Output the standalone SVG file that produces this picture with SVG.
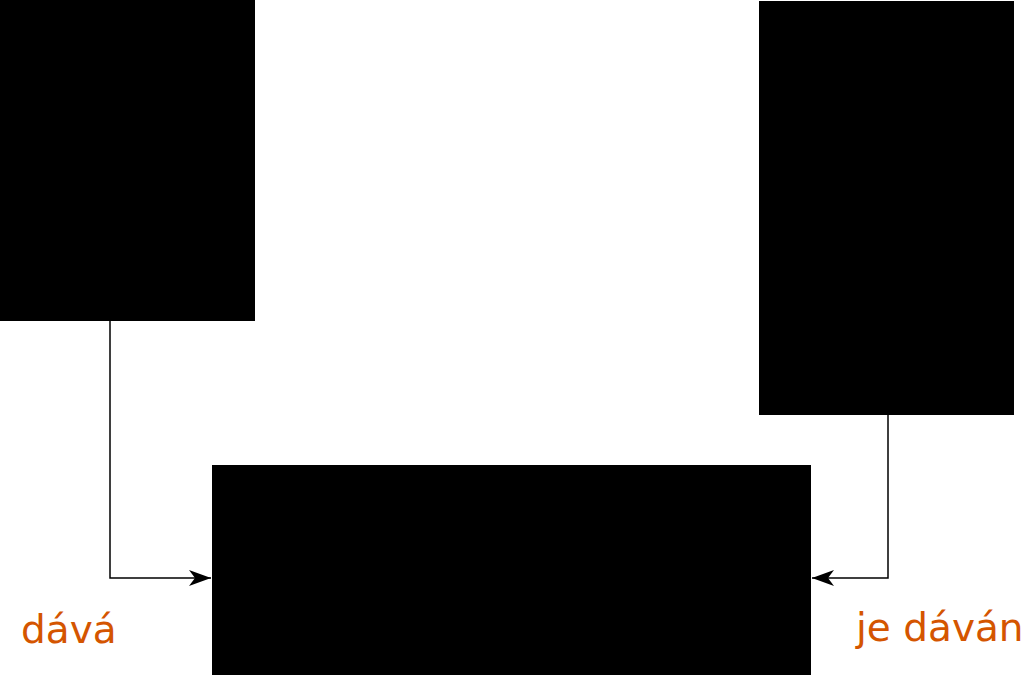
<svg xmlns="http://www.w3.org/2000/svg" width="1024" height="675" viewBox="0 0 1024 675">
<style>
.node{fill:#000;stroke:none}
.conn{fill:none;stroke:#000;stroke-width:1.5}
.lbl{font-family:"DejaVu Sans",sans-serif;font-size:39px;fill:#d45500}
</style>
<defs>
<marker id="arr" viewBox="0 0 22 18" refX="22" refY="9" markerWidth="22" markerHeight="18" markerUnits="userSpaceOnUse" orient="auto" overflow="visible">
<path d="M0,1 L22,9 L0,17 L6,9 Z" fill="#000"/>
</marker>
</defs>
<rect width="1024" height="675" fill="#fff"/>
<g id="nodeLeft"><rect class="node" x="0" y="0" width="255" height="321"/></g>
<g id="nodeRight"><rect class="node" x="759" y="1" width="255" height="414"/></g>
<g id="nodeBottom"><rect class="node" x="212" y="465" width="599" height="210"/></g>
<g id="connectors">
<path class="conn" d="M110,321 V578 H211" marker-end="url(#arr)"/>
<path class="conn" d="M888,415 V578 H812" marker-end="url(#arr)"/>
</g>
<g id="labels">
<text class="lbl" x="21" y="643">dává</text>
<text class="lbl" x="856" y="641">je dáván</text>
</g>
</svg>
